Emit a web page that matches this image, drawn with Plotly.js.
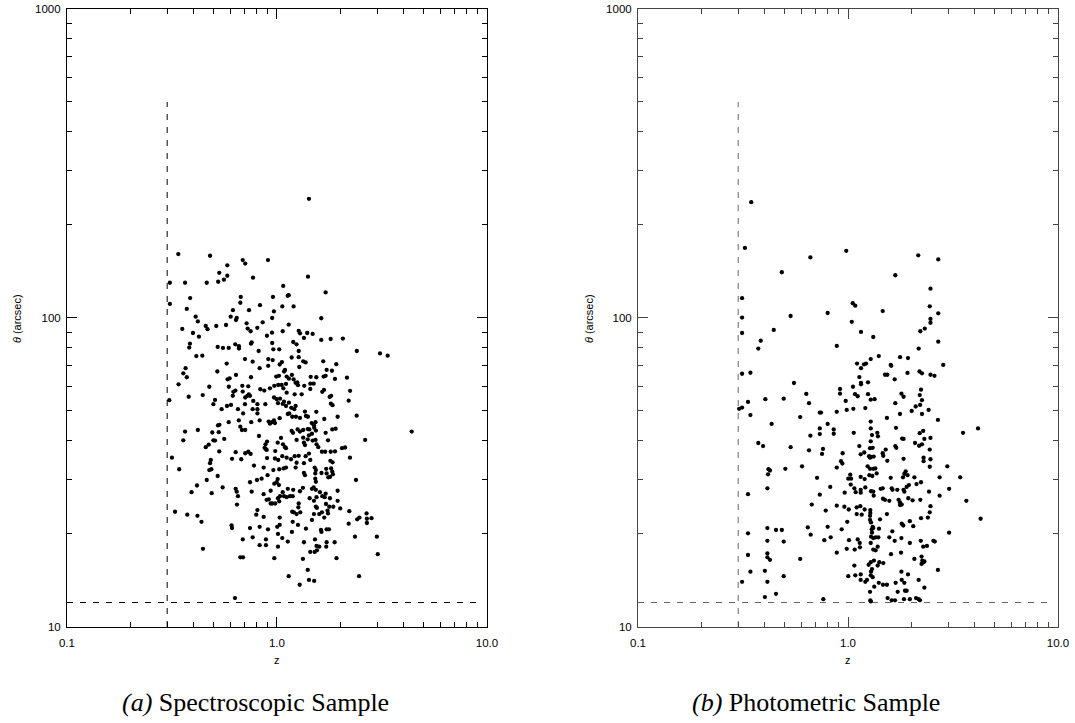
<!DOCTYPE html>
<html><head><meta charset="utf-8">
<script src="https://cdn.plot.ly/plotly-3.0.1.min.js"></script>
<style>html,body{margin:0;padding:0;background:#fff}#chart{width:1075px;height:723px}</style>
</head><body><div id="chart"></div>
<script>
// (a) Spectroscopic sample: [z, theta (arcsec)]
const specPoints = [
[1.42,243],
[0.339,161],[0.480,159],[0.687,154],[0.706,150],[0.906,154],[0.580,148],[0.531,140],[0.580,137],[0.559,133],[0.769,135],
[1.405,136],[0.309,130],[0.365,130],[0.463,130],[0.525,131],[1.071,127],[1.705,121],[1.137,118.5],[1.125,118],[0.957,117],
[0.672,117],[0.386,116],[0.309,111],[0.669,112],[0.830,110],[1.06,109],[1.20,109],[0.372,107],[0.617,106],[0.736,106],
[0.967,105],[0.602,101],[0.643,100],[0.638,98.5],[0.949,100],[1.625,99.8],[0.410,101],[0.420,97.5],[0.855,96.8],[0.717,96.1],
[1.137,95.1],[0.458,94.2],[0.514,94.2],[0.572,94.9],[0.467,92],[0.725,92.4],[0.806,92.9],[0.354,92.2],[0.749,90.6],[0.947,89.6],
[1.065,90.6],[1.269,90.8],[1.287,89.2],[1.393,89.4],[1.479,88.8],[0.398,89.4],[0.425,87],[0.896,87.6],[1.344,86.2],[1.625,84.9],
[1.802,85.5],[2.06,85.8],[0.385,82.6],[0.382,80.2],[0.522,80.6],[0.553,80],[0.589,80],[0.633,82.2],[0.659,81],[0.659,79.6],
[0.758,83.4],[0.752,82.6],[0.949,83],[1.195,83.6],[1.239,82.2],[0.818,78.2],[0.961,79.2],[1.025,79.2],[1.269,78.2],[2.40,78.2],
[3.094,76.8],[3.366,75.5],[0.413,75.3],[0.441,75.5],[0.704,73.6],[0.766,72.2],[0.909,73.6],[0.954,73.1],[1.056,72],[1.175,74.5],
[1.269,74.7],[1.333,72.4],[1.369,71.8],[1.66,72.4],[1.916,70.9],[0.576,71.2],[1.030,70.7],[0.908,70],[1.277,69.4],[0.367,68.8],
[0.827,68.8],[1.724,67.9],[1.827,67.5],[0.520,67.1],[1.081,67.1],[1.092,67.9],[0.358,66.2],
[0.372,64.3],[0.340,61],[0.476,59.9],[0.582,63.3],[0.595,63.8],[0.638,65.4],[0.752,64.3],[0.992,64.6],[1.022,65],[1.112,64.6],
[1.140,63.6],[1.178,65.4],[1.20,63.3],[1.249,61.9],[1.447,64.5],[1.539,64.3],[1.668,64.6],[1.705,65],[1.889,63.5],[2.154,64.1],
[1.053,60.7],[1.104,61.2],[1.072,59.2],[1.227,61.7],[1.259,60.6],[1.349,60.3],[1.441,61.3],[1.496,61.3],[0.590,59.9],[0.684,60.3],
[0.730,60.1],[0.833,58.8],[0.870,58.2],[0.926,59.2],[0.971,60.3],[1.014,60.7],[0.634,58.2],[0.620,57.7],[0.687,57.8],[0.616,56],
[0.734,56.6],[0.723,56],[0.744,56],[1.112,57.3],[1.214,56.6],[1.311,56.6],[1.441,58.9],[1.643,57.7],[1.674,58.5],[2.23,58.1],
[1.811,56],[1.782,55.5],[0.380,55.6],[0.443,56.3],[0.507,54.3],[0.498,52.6],[0.307,54.2],[0.706,55.3],[0.704,52.6],[0.771,53.9],
[0.807,52.6],[0.880,52.6],[0.968,55.3],[0.997,54.6],[1.034,54.8],[1.011,53],[1.065,52.7],[1.080,53.6],[1.140,53.2],[1.104,51.9],
[1.806,52.8],[1.839,52.2],[2.195,54],[0.545,50.7],[0.578,51.9],[0.604,52.3],[0.652,50.7],[0.690,49.1],[0.658,46.6],[0.669,44.5],
[0.681,43.4],[0.706,43.4],[0.766,50.7],[0.807,50.7],[0.807,49.1],[0.827,46.6],[0.754,46],[1.170,51.2],[1.209,50.7],[1.227,51.9],
[1.359,49.8],[1.374,48.2],[1.539,49.7],[1.404,47.9],[1.126,48.9],[1.144,49.1],[1.182,47.9],[1.030,47.4],[0.968,46.6],[0.947,46],
[0.913,46.2],[0.926,45.5],[0.978,45.7],[1.231,47.9],[1.287,47.5],[1.945,47.9],[2.396,48.3],[1.679,47.1],[0.589,46],[0.524,44.9],
[0.532,45.1],[1.463,45.7],[1.500,45],[1.526,46],[1.426,43.6],[1.333,43.4],[1.401,43.7],[1.504,44.1],[1.532,43.2],[1.175,43.1],
[1.192,42.5],[1.254,43.6],[1.287,42.9],[1.705,42.5],[1.833,43.6],[1.902,43.8],[0.365,42.9],[0.420,43.4],[0.492,42.6],[0.528,42.7],
[4.38,42.9],[0.358,40.2],[0.458,38.2],[0.473,38.9],[0.498,40.2],[0.507,40.1],[0.561,40.6],[0.821,41.5],[0.897,39.8],[0.882,39],
[0.873,38],[0.886,37.6],[0.893,37.4],[1.008,39.5],[1.045,40.9],[1.068,39],[1.092,38.2],[1.104,37.9],[1.240,40.3],[1.333,41],
[1.344,39.5],[1.359,38.8],[1.401,40.5],[1.420,41.7],[1.467,42.2],[1.479,40.1],[1.526,40.3],[1.543,39],[1.573,38.2],[1.750,40.2],
[2.63,40.3],[2.04,37.9],[2.11,38.1],[1.637,36.9],[1.697,36.9],[1.889,37],[1.802,36.9],[0.531,37],[0.636,36.8],[0.706,36.5],
[0.730,36.9],[0.749,36.3],[0.981,37.1],[0.316,35.3],[0.611,35],[0.676,34.9],[0.897,35.2],[0.978,35.1],[1.014,34.7],[1.060,35.7],
[1.112,35.3],[1.166,34.9],[1.214,35.7],[1.269,35.8],[1.240,34],[1.227,32.8],[1.344,33.9],[1.369,35.7],[1.420,36.4],[1.441,34.7],
[1.796,34.5],[1.839,34.1],[2.226,35.3],[0.484,34.7],[0.480,33.9],[0.476,32.2],[0.487,32.4],[0.342,32.4],[0.522,30.8],[0.463,29.9],
[0.777,33.3],[0.864,32.8],[0.961,32.2],[1.025,32.4],[1.076,32.6],[1.104,32.8],[1.512,32.8],[1.532,32.2],[1.522,31.4],[1.629,31.5],
[1.716,32.5],[1.724,31.4],[1.811,32.6],[1.833,31.8],[1.847,31.2],[1.756,30.5],[1.788,30.6],[0.902,31],[0.845,30.2],[0.803,29.9],
[0.744,29.4],[1.008,30.1],[0.997,29.4],[0.971,29.1],[1.022,28.8],[1.344,31.5],[1.359,31],[1.522,30.2],[1.532,29.5],[2.378,29.9],
[0.416,28.7],[0.392,27.3],[0.489,27.1],[0.551,28.3],[0.636,28],[0.643,27.4],[0.758,27.4],[0.933,27.6],[1.065,27.3],[1.126,28],
[1.195,27.8],[1.287,27.5],[1.329,28.2],[1.467,28],[1.496,28.3],[1.532,27.8],[1.602,27.3],[1.705,27],[1.945,27.6],
[0.652,26.5],[0.864,26.9],[1.011,26.1],[1.034,26.5],[1.080,26.5],[1.112,26.3],[1.153,26.5],[1.188,26.5],[1.431,26.1],[1.500,25.6],
[1.543,26.3],[1.643,26.5],[1.686,26.3],[1.788,26.1],[1.945,25.6],[0.893,25.8],[0.914,25.9],[0.933,25.1],[0.950,25.1],[0.981,25.1],
[1.025,25.5],[0.645,24.9],[1.269,25.1],[1.264,24.4],[1.532,24.5],[1.550,24.3],[1.711,25],[1.774,24.5],[1.854,24.5],[2.00,24.2],
[0.327,23.6],[0.374,23.1],[0.418,22.9],[0.437,21.9],[0.807,23.9],[0.797,23.1],[0.864,22.7],[1.030,22.6],[1.182,23.6],[1.204,23.5],
[1.240,23.2],[1.291,23.5],[1.500,23.2],[1.590,23.2],[1.637,23.5],[1.679,22.6],[1.741,23.8],[1.750,23.3],[1.467,22.2],[2.21,23.7],
[2.195,21.6],[2.41,22.3],[2.47,22.6],[2.67,23.3],[2.68,22.4],[2.68,21.7],[2.82,22.5],[2.99,19.6],[3.02,17.2],[0.608,21.3],
[0.611,20.9],[0.744,20.9],[0.827,21.1],[0.906,20.7],[1.003,21.1],[1.030,21.4],[1.188,21.9],[1.259,21.4],[1.374,20.8],[1.620,20.6],
[1.629,20.3],[1.724,20.7],[1.768,20.7],[1.011,20],[1.060,19.4],[1.126,18.9],[1.178,20.3],[0.687,19.2],[0.766,19.5],[0.827,18.4],
[0.886,19.2],[0.886,18.4],[1.011,18.2],[1.344,18.8],[1.517,19.2],[1.543,18.3],[1.590,18.2],[1.724,18.8],[1.716,18.2],[1.882,18.8],
[2.352,19.6],[0.444,17.9],[1.441,17.5],[1.512,17.5],[1.550,17.7],[0.669,16.8],[0.689,16.8],[0.971,16.7],[1.329,16.6],[1.921,16.7],
[1.401,15.3],[1.137,14.6],[1.420,14.2],[1.504,14.1],[2.46,14.6],[1.283,13.7],[0.631,12.4]
];

// (b) Photometric sample: [z, theta (arcsec)]
const photPoints = [
[0.346,237],[0.323,168.5],[0.981,165],[0.662,157],[2.16,159.5],[2.69,154.7],[0.484,140.6],[1.679,137.5],[2.47,124.4],[0.313,115.9],
[1.053,111.6],[1.083,109.6],[2.45,109.1],[0.313,100.3],[0.533,101.5],[0.800,103.8],[1.463,105.3],[2.69,103.5],[2.47,99.3],[2.47,96.5],
[1.042,97.2],[0.443,91.5],[0.313,89.4],[1.153,90.1],[2.32,92.4],[2.21,90.6],[1.319,86.8],[0.384,84.4],[2.69,83.8],[0.374,79.6],
[0.884,81.2],[2.17,79.6],[1.401,75.3],[1.77,74.7],[1.93,74.2],[1.283,73.6],
[1.104,71.2],[1.153,68.8],[1.192,70.8],[1.218,71.2],[1.597,70.5],[1.607,70],[2.84,70.5],[0.313,66],[0.343,66.5],[1.500,65.5],
[1.539,65.5],[1.92,66.4],[2.19,67.1],[2.25,66.2],[2.47,65.5],[2.58,65],[1.132,64.4],[1.153,61.7],[1.153,61],[1.245,61.9],
[1.668,63.3],[0.553,61.6],[1.056,59.9],[0.916,58.9],[0.916,56.9],[1.080,56.7],[1.112,55.8],[1.245,56.7],[2.226,58.6],[2.195,56.3],
[1.796,56.9],[1.839,55.6],[0.633,56.8],[0.652,53],[0.404,54.6],[0.494,54.8],[0.334,53.5],[1.283,54.4],[1.339,54.6],[0.975,53.9],
[1.679,53],[2.25,54.2],[2.205,52.3],[2.10,51.7],[0.303,50.8],[0.313,51.3],[0.343,48.5],[0.734,49.4],[0.744,49.4],[0.884,49.7],
[0.986,50.4],[1.060,50.8],[1.209,51.1],[2.01,50],[2.42,50.4],[2.25,48.9],[1.768,48.9],[0.592,47.8],[0.433,45.4],[1.532,47.5],
[2.68,46.8],[1.283,46.2],[0.800,45.4],[0.734,43.9],[0.734,42.1],[0.855,43.6],[0.855,42.2],[0.662,41.6],[1.283,43.9],[1.379,42.5],
[1.389,41.4],[1.301,41.8],[1.065,42.5],[1.692,44.1],[2.28,43.1],[2.195,42.4],[2.31,40.6],[2.47,40.9],[1.81,40.7],[1.839,40.6],
[3.53,42.5],[4.16,43.9],[0.374,39.4],[0.394,38.5],[0.533,38.2],[0.652,37.3],[0.760,37.7],[0.752,36.3],[1.132,38.5],[1.283,39.9],
[1.311,38],[1.273,37.9],[1.149,36.2],[1.195,36.7],[1.259,35.7],[1.287,35.5],[1.325,35.6],[1.273,35.3],[1.512,37.5],[1.463,36.5],
[1.472,35.8],[1.539,34.5],[1.679,38.5],[1.697,38],[2.085,39.4],[2.18,38.6],[2.25,39],[2.45,37.5],[1.839,35],[2.29,35.3],
[2.29,34.4],[2.47,34.9],[0.943,36.5],[0.926,34.4],[0.940,33.8],[0.418,32.4],[0.425,32.1],[0.416,31.2],[0.503,32.5],[0.604,33.1],
[0.884,32.8],[1.240,33.1],[1.273,32.5],[1.319,32.5],[1.369,31.4],[1.349,32.6],[1.882,31.9],[1.921,31],[2.07,30.5],[2.45,33],
[2.97,33.1],[2.73,30.5],[3.42,30.5],[1.025,31.1],[1.003,30.2],[1.034,30.2],[1.149,30.6],[1.20,30.1],[1.264,31],[1.305,30.8],
[1.597,30.4],[1.827,30.5],[1.854,31.3],[0.712,30.4],
[0.413,28.1],[0.334,26.9],[0.823,28.4],[0.734,26.8],[0.964,27.2],[1.030,28.9],[1.072,28.1],[1.088,27.3],[1.149,27.8],[1.149,27.2],
[1.209,28.3],[1.287,27.5],[1.319,27.4],[1.325,26.6],[1.431,28],[1.463,28.1],[1.614,28.1],[1.629,27.8],[1.716,27.8],[1.839,27.8],
[1.854,27.4],[1.902,28.4],[1.95,28.8],[2.12,29],[2.226,29.4],[2.43,27.4],[2.73,26.6],[3.03,28],[3.66,25.6],[1.467,26],
[1.500,25.8],[1.573,25.6],[1.741,25.8],[1.768,25.3],[1.802,24.9],[1.768,24.8],[1.936,26.1],[2.03,25.7],[2.21,25.8],[0.672,24.9],
[0.783,23.8],[0.884,24.7],[0.961,24.5],[1.008,24],[1.100,24.4],[1.144,24.6],[1.20,24],[1.277,23.9],[1.277,23.4],[1.100,23.2],
[1.162,23.1],[1.273,22.9],[2.47,24.6],[2.45,23.5],[2.40,22.6],[2.226,22.5],[1.532,23.2],[1.420,22.3],[1.97,22],[1.802,21.6],
[1.833,21.3],[2.045,21.2],[0.992,21.9],[1.273,22.2],[1.287,21.8],[1.311,21.1],[1.297,20.7],[1.319,20.9],[1.404,20.8],[0.413,20.9],
[0.454,20.6],[0.484,20.6],[0.643,21],[0.800,21.1],[0.933,20.7],[0.334,20.1],[0.664,19.9],[3.03,20.2],[4.28,22.4],[1.625,20.4],
[1.301,20.2],[1.287,19.6],[1.319,19.4],[1.354,19.5],[0.827,19.5],[0.771,19.1],[1.011,19.1],[1.112,19.2],[1.137,18.7],[1.283,18.7],
[1.394,19.5],[1.573,19.5],[1.668,19],[1.796,19.4],[1.97,18.7],[2.22,19],[2.55,19],[2.59,18.9],[0.413,19],[0.494,18.9],
[0.986,17.9],[1.076,17.8],[1.140,18.1],[1.384,18.2],[1.354,17.7],[1.319,17.8],[2.28,18.2],[2.376,18.3],[0.334,17.1],[0.413,17.3],
[0.413,16.8],[0.425,16.5],[0.592,16.6],[0.884,17.4],[1.602,17.2],[1.788,17.4],[2.07,16.6],[2.24,16.9],[2.26,16.4],[2.31,16.3],
[2.24,16],[2.29,16.2],[1.329,16.4],[1.283,16.2],[1.409,16.2],[1.472,16.1],[1.254,15.9],[1.384,15.8],[1.301,15.4],[1.287,15.1],
[1.072,15.8],[0.343,15.1],[0.402,15.2],[0.494,14.6],[1.003,14.6],[1.083,14.7],[1.149,14.8],[1.149,14.2],[1.209,14],[1.231,14.2],
[1.283,14.7],[1.311,14.5],[1.796,15.1],[1.93,14.8],[2.68,15.3],[0.313,14],[0.413,14],[1.333,13.5],[1.401,13.9],[1.467,13.7],
[1.532,13.7],[1.686,13.9],[1.802,14.2],[1.854,13.9],[2.17,14.2],[2.31,13.4],[1.273,13],[1.724,13],[1.868,13.1],[1.902,13.1],
[0.402,12.5],[0.454,12.8],[0.763,12.3],[1.277,12.2],[1.283,12.1],[1.543,12.4],[1.614,12.2],[1.674,12.2],[1.847,12.3],[1.97,12.3],
[2.108,12.4],[2.17,12.3],[2.20,12.2]
];

// Selection limits (dashed lines)
const zCutLineZ = [0.3, 0.3];
const zCutLineTheta = [10, 500];
const thetaCutLineZ = [0.1, 9];
const thetaCutLineTheta = [12, 12];

// Axis tick labels
const xMajorVals = [0.1, 1, 10];
const xMajorText = ['0.1', '1.0', '10.0'];
const yMajorVals = [10, 100, 1000];
const yMajorText = ['10', '100', '1000'];
const captions = ['<i>(a)</i> Spectroscopic Sample', '<i>(b)</i> Photometric Sample'];

const minorVals = (lo, hi) => {
  const v = [];
  for (let d = lo; d < hi; d *= 10) for (let k = 2; k <= 9; k++) v.push(+(d * k).toPrecision(3));
  return v;
};
const xMinor = minorVals(0.1, 10);
const yMinor = minorVals(10, 1000);

function scatter(points, xa, ya) {
  return {type: 'scatter', mode: 'markers', x: points.map(p => p[0]), y: points.map(p => p[1]),
    xaxis: xa, yaxis: ya, marker: {color: '#000', size: 4.3, line: {width: 0}}, hoverinfo: 'x+y', showlegend: false};
}
function dashed(x, y, xa, ya, color) {
  return {type: 'scatter', mode: 'lines', x: x, y: y, xaxis: xa, yaxis: ya,
    line: {color: color, width: 1, dash: '6px,7px'}, hoverinfo: 'skip', showlegend: false};
}

const data = [
  dashed(zCutLineZ, zCutLineTheta, 'x', 'y', '#000'),
  dashed(thetaCutLineZ, thetaCutLineTheta, 'x', 'y', '#000'),
  scatter(specPoints, 'x', 'y'),
  dashed(zCutLineZ, zCutLineTheta, 'x2', 'y2', '#666'),
  dashed(thetaCutLineZ, thetaCutLineTheta, 'x2', 'y2', '#666'),
  scatter(photPoints, 'x2', 'y2')
];

const tickFont = {family: 'Liberation Sans, Arial, sans-serif', size: 11.5, color: '#000'};
function xAxis(domain, anchor, color) {
  return {type: 'log', range: [-1, 1], domain: domain, anchor: anchor,
    showline: true, linecolor: color, linewidth: 1, mirror: 'ticks',
    ticks: 'inside', ticklen: 10, tickwidth: 1, tickcolor: color,
    tickmode: 'array', tickvals: xMajorVals, ticktext: xMajorText, tickfont: tickFont, ticklabelstandoff: 5,
    minor: {tickmode: 'array', tickvals: xMinor, ticks: 'inside', ticklen: 5, tickwidth: 1, tickcolor: color, showgrid: false},
    showgrid: false, zeroline: false, fixedrange: true};
}
function yAxis(anchor, color) {
  return {type: 'log', range: [1, 3], domain: [0.1328, 0.9876], anchor: anchor,
    showline: true, linecolor: color, linewidth: 1, mirror: 'ticks',
    ticks: 'inside', ticklen: 10, tickwidth: 1, tickcolor: color,
    tickmode: 'array', tickvals: yMajorVals, ticktext: yMajorText, tickfont: tickFont, ticklabelstandoff: 3,
    minor: {tickmode: 'array', tickvals: yMinor, ticks: 'inside', ticklen: 5, tickwidth: 1, tickcolor: color, showgrid: false},
    showgrid: false, zeroline: false, fixedrange: true};
}

const titleFont = {family: 'Liberation Sans, Arial, sans-serif', size: 11, color: '#000'};
const capFont = {family: 'Liberation Serif, Times New Roman, serif', size: 26, color: '#000'};
const layout = {
  width: 1075, height: 723,
  margin: {l: 0, r: 0, t: 0, b: 0},
  paper_bgcolor: '#fff', plot_bgcolor: '#fff',
  showlegend: false,
  xaxis: xAxis([0.0623, 0.4530], 'y', '#000'),
  yaxis: yAxis('x', '#000'),
  xaxis2: xAxis([0.5935, 0.9842], 'y2', '#444'),
  yaxis2: yAxis('x2', '#444'),
  annotations: [
    {xref: 'paper', yref: 'paper', x: 0.2577, y: 0.0871, text: 'z', showarrow: false, font: titleFont, xanchor: 'center', yanchor: 'middle'},
    {xref: 'paper', yref: 'paper', x: 0.7888, y: 0.0871, text: 'z', showarrow: false, font: titleFont, xanchor: 'center', yanchor: 'middle'},
    {xref: 'paper', yref: 'paper', x: 0.0158, y: 0.560, text: '<i>θ</i> (arcsec)', textangle: -90, showarrow: false, font: titleFont, xanchor: 'center', yanchor: 'middle'},
    {xref: 'paper', yref: 'paper', x: 0.5479, y: 0.560, text: '<i>θ</i> (arcsec)', textangle: -90, showarrow: false, font: titleFont, xanchor: 'center', yanchor: 'middle'},
    {xref: 'paper', yref: 'paper', x: 0.2375, y: 0.0290, text: captions[0], showarrow: false, font: capFont, xanchor: 'center', yanchor: 'middle'},
    {xref: 'paper', yref: 'paper', x: 0.7590, y: 0.0290, text: captions[1], showarrow: false, font: capFont, xanchor: 'center', yanchor: 'middle'}
  ]
};

Plotly.newPlot('chart', data, layout, {displayModeBar: false, staticPlot: true});
</script>
</body></html>
